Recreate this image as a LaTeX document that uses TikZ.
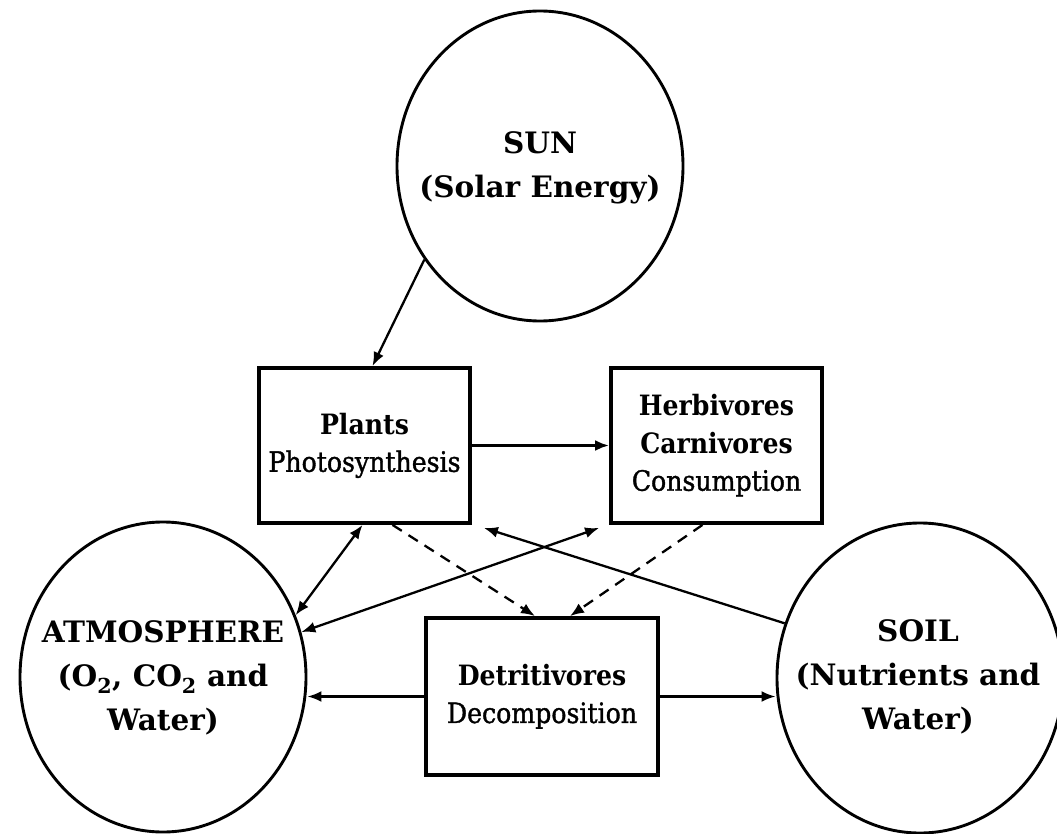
\documentclass[tikz,border=0pt]{standalone}
\usepackage{fontspec}
\setmainfont{DejaVu Serif}
\newfontfamily\condf{DejaVu Serif Condensed}[BoldFont={DejaVu Serif Condensed Bold}]
\newfontfamily\condm{DejaVu Serif Condensed}[FakeBold=1.3]
\usetikzlibrary{shapes.geometric,arrows.meta,calc}
\begin{document}
\begin{tikzpicture}[x=1pt,y=-1pt,
  circ/.style={ellipse, draw, line width=2.9pt, minimum width=286pt, minimum height=310pt, inner sep=0pt},
  bigtxt/.style={align=center, inner sep=0pt, font=\fontsize{29.5}{44}\selectfont\bfseries},
  boxn/.style={draw, line width=3.8pt, minimum width=211pt, minimum height=155pt, inner sep=0pt, align=center, font=\fontsize{28}{37.5}\selectfont\condf},
  arr/.style={-{Latex[length=14pt,width=11pt]}, line width=2.3pt},
  darr/.style={{Latex[length=14pt,width=11pt]}-{Latex[length=14pt,width=11pt]}, line width=2.3pt},
  dasharr/.style={-{Latex[length=14pt,width=11pt]}, line width=2.3pt, dash pattern=on 11pt off 8pt}
]
\useasboundingbox (0,0) rectangle (1057,834);
\fill[white] (0,0) rectangle (1057,834);

\node[circ] (sun) at (540,166) {};
\node[bigtxt] (suntxt) at (540,168) {SUN\\(Solar Energy)};

\node[circ] (atm) at (163,677) {};
\node[bigtxt] (atmtxt) at (163,678) {ATMOSPHERE\\(O\textsubscript{2}, CO\textsubscript{2} and\\Water)};

\node[circ] (soil) at (920,678) {};
\node[bigtxt] (soiltxt) at (918,677) {SOIL\\(Nutrients and\\Water)};

\node[boxn] (plants) at (364.5,445.5) {\textbf{Plants}\\{\condm Photosynthesis}};
\node[boxn] (herb) at (716.5,445.5) {\textbf{Herbivores}\\\textbf{Carnivores}\\{\condm Consumption}};
\node[boxn, minimum width=232pt, minimum height=157pt] (detr) at (542,696.5) {\textbf{Detritivores}\\{\condm Decomposition}};

\draw[arr] (sun.219) -- ([xshift=8pt]plants.north);
\draw[arr, line width=3pt] (plants.east) -- (herb.west);
\draw[darr] ([xshift=-2pt]plants.south) -- (atm.25);
\draw[darr] ([xshift=-10pt,yshift=-3pt]herb.south west) -- (atm.18);
\draw[arr] (soil.158) -- ([xshift=12pt,yshift=-3pt]plants.south east);
\draw[dasharr] ([xshift=28pt]plants.south) -- ([xshift=-7pt]detr.north);
\draw[dasharr] ([xshift=-14pt]herb.south) -- ([xshift=28pt]detr.north);
\draw[arr] (detr.west) -- (detr.west -| atm.east);
\draw[arr] (detr.east) -- (detr.east -| soil.west);
\end{tikzpicture}
\end{document}
